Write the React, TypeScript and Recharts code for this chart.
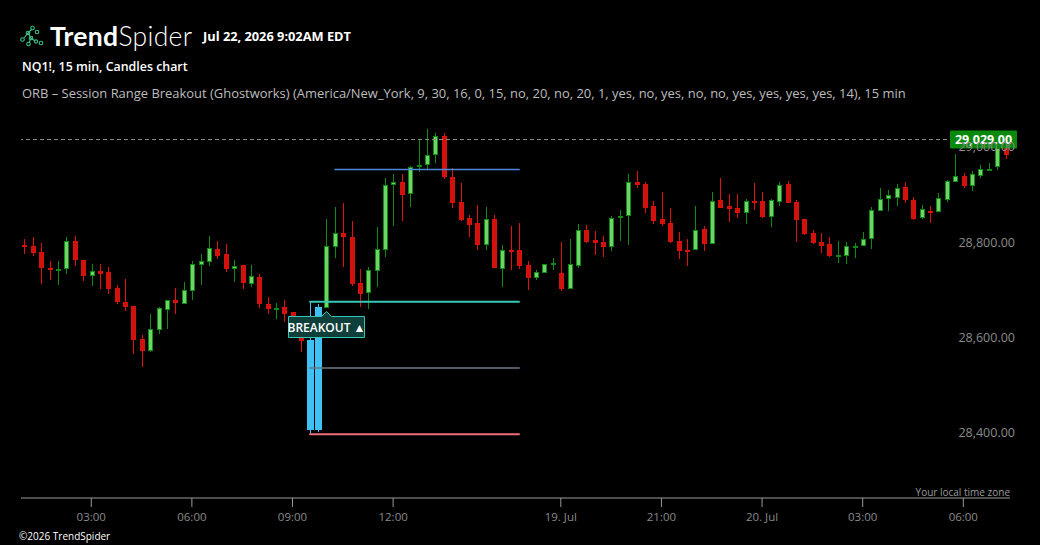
import React from 'react';
import { ComposedChart, Bar, XAxis, YAxis, ReferenceLine, ReferenceDot } from 'recharts';

// ---- Data (NQ1!, 15 min candles) ----
const opens = [28807, 28805, 28793, 28759, 28753, 28758, 28815, 28776, 28743, 28753, 28751, 28717, 28688, 28679, 28610, 28584, 28629, 28671, 28692, 28684,
  28711, 28766, 28772, 28799, 28788, 28758, 28765, 28726, 28740, 28683, 28673, 28677, 28667, 28622, 28608, 28419, 28676, 28804, 28832, 28824,
  28727, 28707, 28753, 28796, 28933, 28939, 28914, 28971, 28975, 28996, 29036, 28950, 28897, 28864, 28854, 28808, 28862, 28758, 28797, 28797,
  28765, 28739, 28749, 28766, 28749, 28716, 28764, 28839, 28818, 28814, 28803, 28867, 28869, 28940, 28936, 28889, 28862, 28854, 28816, 28797,
  28797, 28841, 28809, 28902, 28889, 28885, 28875, 28900, 28900, 28867, 28898, 28936, 28898, 28863, 28833, 28814, 28809, 28783, 28784, 28803,
  28805, 28821, 28879, 28905, 28907, 28929, 28902, 28864, 28879, 28877, 28902, 28940, 28952, 28932, 28953, 28966, 28971, 29011];
const highs = [28820, 28824, 28812, 28774, 28774, 28824, 28826, 28776, 28767, 28767, 28761, 28723, 28736, 28679, 28618, 28662, 28677, 28692, 28717, 28730,
  28774, 28788, 28826, 28816, 28809, 28776, 28765, 28765, 28746, 28698, 28686, 28692, 28667, 28650, 28688, 28683, 28862, 28887, 28896, 28858,
  28757, 28761, 28845, 28948, 28957, 28957, 28973, 29028, 29051, 29043, 29043, 28969, 28938, 28870, 28891, 28887, 28870, 28807, 28847, 28854,
  28774, 28755, 28767, 28780, 28814, 28820, 28851, 28849, 28837, 28826, 28868, 28881, 28957, 28963, 28940, 28900, 28919, 28885, 28835, 28820,
  28889, 28847, 28919, 28948, 28914, 28914, 28904, 28938, 28919, 28904, 28940, 28942, 28902, 28863, 28839, 28833, 28824, 28816, 28814, 28812,
  28835, 28887, 28927, 28923, 28936, 28940, 28908, 28891, 28889, 28917, 28944, 28999, 28959, 28963, 28975, 28980, 29011, 29017];
const lows = [28788, 28785, 28726, 28734, 28724, 28747, 28764, 28732, 28722, 28716, 28705, 28684, 28669, 28579, 28551, 28583, 28621, 28632, 28663, 28684,
  28692, 28724, 28764, 28779, 28751, 28730, 28716, 28720, 28676, 28663, 28652, 28646, 28618, 28583, 28410, 28415, 28676, 28781, 28762, 28722,
  28678, 28674, 28720, 28783, 28847, 28858, 28887, 28961, 28966, 28980, 28947, 28886, 28858, 28825, 28797, 28797, 28760, 28720, 28755, 28758,
  28713, 28734, 28749, 28755, 28711, 28716, 28760, 28812, 28786, 28782, 28795, 28816, 28807, 28927, 28875, 28851, 28847, 28812, 28778, 28763,
  28797, 28795, 28809, 28885, 28856, 28864, 28851, 28881, 28864, 28845, 28889, 28895, 28814, 28828, 28810, 28791, 28782, 28770, 28767, 28780,
  28805, 28799, 28879, 28879, 28889, 28896, 28860, 28863, 28854, 28877, 28898, 28940, 28928, 28921, 28949, 28963, 28965, 28988];
const closes = [28804, 28791, 28760, 28755, 28756, 28815, 28776, 28743, 28752, 28747, 28716, 28688, 28678, 28608, 28585, 28631, 28675, 28691, 28686, 28713,
  28767, 28774, 28801, 28785, 28758, 28763, 28728, 28742, 28684, 28674, 28675, 28663, 28622, 28606, 28419, 28677, 28805, 28832, 28825, 28726,
  28705, 28754, 28798, 28933, 28939, 28913, 28971, 28975, 28996, 29036, 28950, 28895, 28860, 28850, 28808, 28861, 28760, 28796, 28795, 28764,
  28739, 28751, 28767, 28769, 28716, 28767, 28839, 28814, 28812, 28803, 28864, 28868, 28940, 28934, 28886, 28858, 28852, 28814, 28795, 28796,
  28839, 28810, 28900, 28885, 28883, 28875, 28900, 28896, 28866, 28902, 28933, 28896, 28860, 28831, 28812, 28806, 28784, 28786, 28805, 28805,
  28820, 28881, 28905, 28912, 28927, 28902, 28861, 28883, 28878, 28906, 28942, 28952, 28931, 28957, 28967, 28968, 29011, 28996];

// opening-range candles (9:30 and 9:45)
const orbCandles = [34, 35];

// ORB levels
const rangeHigh = 28688;
const rangeLow = 28410;
const rangeMid = 28549;
const target = 28966;
const rangeStart = 34;
const targetStart = 37;
const rangeEnd = 59.1;
const breakoutIndex = 36;

const lastPrice = 29029;

const tickIndex = [8, 20, 32, 44, 64, 76, 88, 100, 112];
const tickLabels = ['03:00', '06:00', '09:00', '12:00', '19. Jul', '21:00', '20. Jul', '03:00', '06:00'];
const priceTicks = [28400, 28600, 28800, 29000];

const data = opens.map((o, i) => ({
  i,
  o,
  h: highs[i],
  l: lows[i],
  c: closes[i],
  range: [lows[i], highs[i]],
  orb: orbCandles.includes(i),
}));

const FONT = '"Open Sans", "Noto Sans", Arial, sans-serif';

const Candle = (props: any) => {
  const { x, y, width, height, payload } = props;
  if (!payload) return null;
  const { o, h, l, c, orb } = payload;
  const top = Math.min(y, y + height);
  const bot = Math.max(y, y + height);
  const k = (bot - top) / (h - l || 1);
  const py = (v: number) => top + (h - v) * k;
  const rc = Math.round(x + width / 2);
  const up = c >= o;
  const bTop = Math.round(py(Math.max(o, c)));
  let bBot = Math.round(py(Math.min(o, c)));
  if (bBot - bTop < 2) bBot = bTop + 2;
  if (orb) {
    return (
      <g>
        <line x1={rc + 0.5} x2={rc + 0.5} y1={Math.round(top)} y2={Math.round(bot)} stroke="#3fc1f5" strokeWidth={1} />
        <rect x={rc - 3} y={bTop} width={7} height={bBot - bTop} fill="#3fc1f5" />
      </g>
    );
  }
  const wick = up ? '#0f8a12' : '#e0100c';
  const fill = up ? '#6fd36a' : '#cf120c';
  const stroke = up ? '#0f8a12' : '#d8110c';
  return (
    <g>
      <line x1={rc + 0.5} x2={rc + 0.5} y1={Math.round(top)} y2={Math.round(bot)} stroke={wick} strokeWidth={1} />
      <rect x={rc - 2 + 0.5} y={bTop + 0.5} width={4} height={bBot - bTop - 1} fill={fill} stroke={stroke} strokeWidth={1} />
    </g>
  );
};

const YTick = (props: any) => {
  const { y, payload } = props;
  return (
    <text x={1015} y={y - 6.5} textAnchor="end" dominantBaseline="central" fill="#8a8a8a" fontSize={12.5} fontFamily={FONT}>
      {payload.value.toLocaleString('en-US', { minimumFractionDigits: 2, maximumFractionDigits: 2 })}
    </text>
  );
};

const XTick = (props: any) => {
  const { x, y, payload } = props;
  const idx = tickIndex.indexOf(payload.value);
  return (
    <text x={x} y={y + 7} textAnchor="middle" dominantBaseline="central" fill="#8a8a8a" fontSize={11.5} fontFamily={FONT}>
      {idx >= 0 ? tickLabels[idx] : ''}
    </text>
  );
};

const PriceLabel = (props: any) => {
  const { viewBox } = props;
  const cy = viewBox.y;
  return (
    <g>
      <rect x={950} y={cy - 9} width={67} height={18} rx={1} fill="#0a8a0c" />
      <text x={983.5} y={cy} textAnchor="middle" dominantBaseline="central" fill="#ffffff" fontSize={12.5} fontWeight={700} fontFamily={FONT}>
        {lastPrice.toLocaleString('en-US', { minimumFractionDigits: 2, maximumFractionDigits: 2 })}
      </text>
    </g>
  );
};

const BreakoutShape = (props: any) => {
  const { cx, cy } = props;
  const bx = Math.round(cx) - 38;
  const by = Math.round(cy) + 8;
  const w = 76;
  const hgt = 21;
  const mx = Math.round(cx) + 0.5;
  const d = `M${bx + 0.5},${by + 0.5} L${mx - 5},${by + 0.5} L${mx},${by - 4.5} L${mx + 5},${by + 0.5} L${bx + w + 0.5},${by + 0.5} L${bx + w + 0.5},${by + hgt + 0.5} L${bx + 0.5},${by + hgt + 0.5} Z`;
  return (
    <g>
      <path d={d} fill="#0f3f3a" stroke="#32c7b3" strokeWidth={1} />
      <text x={bx + w / 2 + 0.5} y={by + hgt / 2 + 1} textAnchor="middle" dominantBaseline="central" fill="#ffffff" fontSize={12} fontWeight={600} fontFamily={FONT}>
        BREAKOUT ▲
      </text>
    </g>
  );
};

const Logo = () => (
  <svg width={26} height={24} style={{ position: 'absolute', left: 18, top: 24 }}>
    <g stroke="#3cc38a" strokeWidth={1.1} fill="none">
      <line x1={6} x2={10} y1={14} y2={9} />
      <line x1={10} x2={14} y1={9} y2={5} />
      <line x1={10} x2={13} y1={9} y2={14} />
      <line x1={13} x2={11} y1={14} y2={19} />
      <line x1={13} x2={17} y1={14} y2={17} />
      <circle cx={4.5} cy={15.5} r={1.8} />
      <circle cx={10} cy={9} r={1.8} />
      <circle cx={14.5} cy={4} r={1.8} />
      <circle cx={19} cy={8} r={1.8} />
      <circle cx={13} cy={14} r={1.8} />
      <circle cx={10.5} cy={20} r={1.8} />
      <circle cx={18} cy={17.5} r={1.6} />
      <circle cx={23} cy={19} r={1.8} />
    </g>
  </svg>
);

export default function App() {
  return (
    <div style={{ position: 'fixed', left: 0, top: 0, width: 1040, height: 545, background: '#000', overflow: 'hidden', fontFamily: FONT }}>
      <Logo />
      <div style={{ position: 'absolute', left: 50, top: 19, height: 34, lineHeight: '34px', fontSize: 26.5, color: '#fff', fontFamily: 'Lato, "Open Sans", sans-serif', letterSpacing: 0.3 }}>
        <span style={{ fontWeight: 700 }}>Trend</span>
        <span style={{ fontWeight: 300 }}>Spider</span>
      </div>
      <div style={{ position: 'absolute', left: 203, top: 28, lineHeight: '16px', fontSize: 12.8, fontWeight: 700, color: '#fff' }}>
        Jul 22, 2026 9:02AM EDT
      </div>
      <div style={{ position: 'absolute', left: 22, top: 59, lineHeight: '16px', fontSize: 12.4, fontWeight: 600, color: '#fff' }}>
        NQ1!, 15 min, Candles chart
      </div>
      <div style={{ position: 'absolute', left: 22, top: 85, lineHeight: '16px', fontSize: 12.95, color: '#bdbdbd' }}>
        ORB – Session Range Breakout (Ghostworks) (America/New_York, 9, 30, 16, 0, 15, no, 20, no, 20, 1, yes, no, yes, no, no, yes, yes, yes, yes, 14), 15 min
      </div>
      <div style={{ position: 'absolute', right: 30, top: 485, lineHeight: '14px', fontSize: 10, color: '#9a9a9a' }}>
        Your local time zone
      </div>
      <div style={{ position: 'absolute', left: 19, top: 529, lineHeight: '14px', fontSize: 10, color: '#fff' }}>
        ©2026 TrendSpider
      </div>
      <div style={{ position: 'absolute', left: 0, top: 0 }}>
        <ComposedChart width={1040} height={545} data={data} margin={{ top: 120, right: 0, bottom: 0, left: 21 }}>
          <XAxis
            dataKey="i"
            type="number"
            domain={[-0.38, 117.57]}
            allowDataOverflow
            ticks={tickIndex}
            tick={<XTick />}
            interval={0}
            height={47}
            tickSize={9}
            axisLine={{ stroke: '#9a9a9a' }}
            tickLine={{ stroke: '#9a9a9a' }}
          />
          <YAxis
            orientation="right"
            type="number"
            domain={[28276, 29070]}
            allowDataOverflow
            ticks={priceTicks}
            tick={<YTick />}
            axisLine={false}
            tickLine={false}
            width={30}
          />
          <ReferenceLine y={lastPrice} stroke="#8c8c8c" strokeDasharray="4 3" strokeWidth={1} label={<PriceLabel />} ifOverflow="visible" />
          <Bar dataKey="range" shape={<Candle />} isAnimationActive={false} barSize={7} />
          <ReferenceLine segment={[{ x: targetStart, y: target }, { x: rangeEnd, y: target }]} stroke="#4f86d9" strokeWidth={1.3} />
          <ReferenceLine segment={[{ x: rangeStart, y: rangeHigh }, { x: rangeEnd, y: rangeHigh }]} stroke="#36c9b6" strokeWidth={2} />
          <ReferenceLine segment={[{ x: rangeStart, y: rangeMid }, { x: rangeEnd, y: rangeMid }]} stroke="#6b7786" strokeWidth={1.5} />
          <ReferenceLine segment={[{ x: rangeStart, y: rangeLow }, { x: rangeEnd, y: rangeLow }]} stroke="#ee6d7b" strokeWidth={2} />
          <ReferenceDot x={breakoutIndex} y={lows[breakoutIndex]} r={0} shape={<BreakoutShape />} ifOverflow="visible" />
        </ComposedChart>
      </div>
    </div>
  );
}
